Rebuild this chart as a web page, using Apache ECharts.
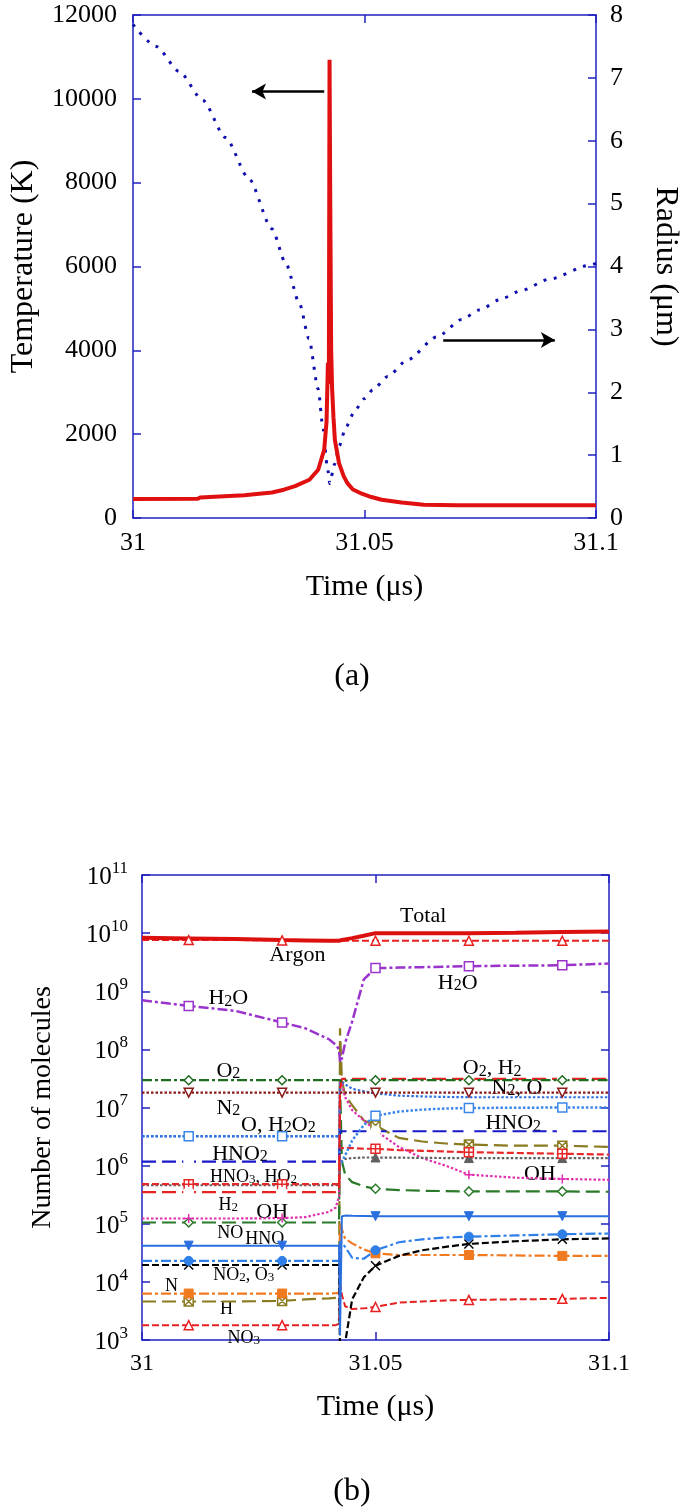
<!DOCTYPE html>
<html><head><meta charset="utf-8">
<script src="https://cdn.jsdelivr.net/npm/echarts/dist/echarts.min.js"></script>
<style>html,body{margin:0;padding:0;background:#fff}#c{width:689px;height:1512px}</style>
</head><body><div id="c"></div><script>
// ---------- DATA: chart (a) ----------
const tempTime = [31, 31.014, 31.0145, 31.024, 31.03, 31.0326, 31.035, 31.0381, 31.04, 31.0413, 31.0418, 31.0421, 31.0423, 31.04245, 31.0426, 31.0428, 31.043, 31.0433, 31.0436, 31.0445, 31.0455, 31.0463, 31.0475, 31.0491, 31.0515, 31.0537, 31.058, 31.0628, 31.07, 31.08, 31.1];
const temperature = [455, 460, 490, 545, 610, 675, 760, 913, 1150, 1630, 2300, 3700, 3200, 10930, 7600, 4000, 3100, 2400, 1865, 1310, 1000, 833, 680, 595, 500, 436, 370, 317, 305, 303, 302];
const radiusTime = [31, 31.005, 31.01, 31.015, 31.02, 31.025, 31.03, 31.033, 31.036, 31.038, 31.04, 31.041, 31.042, 31.0425, 31.0435, 31.0445, 31.046, 31.048, 31.05, 31.0518, 31.055, 31.0592, 31.0656, 31.0711, 31.0748, 31.08, 31.0839, 31.09, 31.0986, 31.1];
const radius = [7.85, 7.5, 7.1, 6.65, 6.05, 5.4, 4.6, 4.05, 3.4, 2.85, 2.05, 1.45, 0.8, 0.55, 0.85, 1.14, 1.45, 1.72, 1.9, 2.04, 2.25, 2.51, 2.88, 3.16, 3.31, 3.5, 3.62, 3.8, 4.02, 4.05];
const arrowTemp = [[31.0413, 31.0257], 10175];   // arrow pointing to the temperature axis
const arrowRadius = [[31.067, 31.0911], 2.83];   // arrow pointing to the radius axis

// ---------- DATA: chart (b) ----------
const molTime = [31, 31.01, 31.02, 31.03, 31.035, 31.04, 31.0415, 31.0422, 31.0424, 31.0428, 31.0435, 31.045, 31.0475, 31.05, 31.055, 31.06, 31.065, 31.07, 31.08, 31.09, 31.1];
const markerTimes = [31.01, 31.03, 31.05, 31.07, 31.09];
const total = [8.3e9, 8.1e9, 7.9e9, 7.6e9, 7.5e9, 7.4e9, 7.4e9, 7.4e9, 7.5e9, 7.6e9, 7.8e9, 8.2e9, 9.0e9, 1.0e10, 1.0e10, 1.0e10, 1.0e10, 1.0e10, 1.01e10, 1.05e10, 1.07e10];
const argon = [7.6e9, 7.6e9, 7.6e9, 7.5e9, 7.4e9, 7.4e9, 7.4e9, 7.4e9, 7.4e9, 7.4e9, 7.4e9, 7.4e9, 7.4e9, 7.4e9, 7.4e9, 7.4e9, 7.4e9, 7.4e9, 7.4e9, 7.4e9, 7.4e9];
const h2o = [7.0e8, 5.6e8, 4.6e8, 2.9e8, 2.3e8, 1.5e8, 1.2e8, 1.0e8, 6.0e7, 7.0e7, 1.3e8, 3.0e8, 1.6e9, 2.5e9, 2.55e9, 2.6e9, 2.65e9, 2.7e9, 2.75e9, 2.8e9, 3.0e9];
const o2 = [2.95e7, 2.95e7, 2.95e7, 2.95e7, 2.95e7, 2.95e7, 2.95e7, 2.95e7, 2.8e7, 2.8e7, 2.9e7, 2.95e7, 2.95e7, 2.95e7, 2.95e7, 2.95e7, 2.95e7, 2.95e7, 2.95e7, 2.95e7, 2.95e7];
const h2 = [3.5e5, 3.5e5, 3.5e5, 3.5e5, 3.5e5, 3.5e5, 3.5e5, 3.6e5, 2.0e7, 3.1e7, 3.1e7, 3.1e7, 3.1e7, 3.1e7, 3.1e7, 3.1e7, 3.1e7, 3.1e7, 3.1e7, 3.1e7, 3.1e7];
const n2 = [1.8e7, 1.8e7, 1.8e7, 1.8e7, 1.8e7, 1.8e7, 1.8e7, 1.8e7, 1.8e7, 1.8e7, 1.8e7, 1.8e7, 1.8e7, 1.8e7, 1.8e7, 1.8e7, 1.8e7, 1.8e7, 1.8e7, 1.8e7, 1.8e7];
const o = [3.2e6, 3.2e6, 3.2e6, 3.2e6, 3.2e6, 3.2e6, 3.2e6, 3.2e6, 3.0e7, 2.8e7, 2.5e7, 2.1e7, 1.9e7, 1.75e7, 1.6e7, 1.55e7, 1.52e7, 1.5e7, 1.5e7, 1.5e7, 1.5e7];
const h2o2 = [3.2e6, 3.2e6, 3.2e6, 3.2e6, 3.2e6, 3.2e6, 3.2e6, 3.2e6, 1.0e6, 1.0e6, 1.5e6, 2.7e6, 5.0e6, 7.2e6, 8.5e6, 9.2e6, 9.6e6, 9.8e6, 9.9e6, 1.0e7, 1.0e7];
const hno2 = [1.17e6, 1.17e6, 1.17e6, 1.17e6, 1.17e6, 1.17e6, 1.17e6, 1.17e6, 3.9e6, 3.9e6, 3.9e6, 3.9e6, 3.9e6, 3.9e6, 3.9e6, 3.9e6, 3.9e6, 3.9e6, 3.9e6, 3.9e6, 3.9e6];
const hno3 = [4.8e5, 4.8e5, 4.8e5, 4.8e5, 4.8e5, 4.8e5, 4.8e5, 4.8e5, 2.0e6, 2.0e6, 2.0e6, 2.0e6, 1.95e6, 1.95e6, 1.85e6, 1.8e6, 1.75e6, 1.7e6, 1.65e6, 1.6e6, 1.55e6];
const ho2 = [4.6e5, 4.6e5, 4.6e5, 4.6e5, 4.6e5, 4.6e5, 4.6e5, 4.6e5, 1.1e6, 1.2e6, 1.3e6, 1.35e6, 1.38e6, 1.38e6, 1.37e6, 1.36e6, 1.35e6, 1.35e6, 1.35e6, 1.35e6, 1.35e6];
const oh = [1.23e5, 1.23e5, 1.23e5, 1.25e5, 1.3e5, 1.6e5, 1.9e5, 3.0e5, 3.0e7, 2.5e7, 1.5e7, 9.0e6, 6.0e6, 4.0e6, 2.1e6, 1.35e6, 1.0e6, 7.0e5, 6.2e5, 5.9e5, 5.7e5];
const no = [1.05e5, 1.05e5, 1.05e5, 1.05e5, 1.05e5, 1.05e5, 1.05e5, 1.05e5, 3.0e7, 1.2e6, 7.0e5, 5.2e5, 4.4e5, 4.0e5, 3.8e5, 3.7e5, 3.65e5, 3.6e5, 3.6e5, 3.6e5, 3.55e5];
const hno = [4.2e4, 4.2e4, 4.2e4, 4.2e4, 4.2e4, 4.2e4, 4.2e4, 4.2e4, 1.2e3, 1.35e5, 1.38e5, 1.37e5, 1.36e5, 1.35e5, 1.35e5, 1.35e5, 1.35e5, 1.35e5, 1.35e5, 1.35e5, 1.35e5];
const no2 = [2.3e4, 2.3e4, 2.3e4, 2.3e4, 2.3e4, 2.3e4, 2.3e4, 2.3e4, 5.0e4, 5.0e4, 4.0e4, 2.6e4, 2.5e4, 3.5e4, 4.8e4, 5.4e4, 5.8e4, 6.0e4, 6.3e4, 6.6e4, 6.8e4];
const o3 = [1.95e4, 1.95e4, 1.95e4, 1.95e4, 1.95e4, 1.95e4, 1.95e4, 1.95e4, 5e2, 5e2, 9e2, 5.0e3, 1.2e4, 1.9e4, 2.8e4, 3.5e4, 4.0e4, 4.5e4, 5.0e4, 5.4e4, 5.6e4];
const nAtom = [6.3e3, 6.3e3, 6.3e3, 6.3e3, 6.3e3, 6.3e3, 6.4e3, 6.5e3, 1.0e5, 8.0e4, 5.5e4, 4.6e4, 3.6e4, 3.1e4, 2.9e4, 2.9e4, 2.9e4, 2.9e4, 2.85e4, 2.8e4, 2.8e4];
const hAtom = [4.6e3, 4.6e3, 4.6e3, 4.7e3, 5.0e3, 5.2e3, 5.3e3, 5.3e3, 2.3e8, 3.0e7, 1.6e7, 1.1e7, 6.0e6, 4.9e6, 3.0e6, 2.6e6, 2.4e6, 2.3e6, 2.2e6, 2.2e6, 2.1e6];
const no3 = [1.8e3, 1.8e3, 1.8e3, 1.8e3, 1.8e3, 1.8e3, 1.8e3, 1.9e3, 1.0e4, 6.0e3, 3.8e3, 3.4e3, 3.5e3, 3.7e3, 4.4e3, 4.6e3, 4.8e3, 4.9e3, 5.0e3, 5.1e3, 5.3e3];
// in-plot species labels: [text, time, molecules]
const speciesLabels = [
  ['Total', 31.0603, 2.0e10], ['Argon', 31.0334, 4.2e9], ['H2O', 31.0186, 7.7e8], ['H2O', 31.0677, 1.4e9],
  ['O2', 31.0186, 4.3e7], ['O2, H2', 31.0751, 4.8e7], ['N2, O', 31.0804, 2.2e7], ['N2', 31.0186, 1.0e7],
  ['O, H2O2', 31.0293, 5.1e6], ['HNO2', 31.0796, 5.4e6], ['HNO2', 31.0211, 1.6e6], ['HNO3, HO2', 31.024, 6.5e5],
  ['H2', 31.0186, 2.1e5], ['OH', 31.028, 1.6e5], ['OH', 31.0853, 7.4e5], ['NO', 31.019, 7.1e4],
  ['HNO', 31.0264, 5.5e4], ['NO2, O3', 31.0219, 1.35e4], ['N', 31.0064, 8.5e3], ['H', 31.0182, 3.4e3], ['NO3', 31.0219, 1.1e3]
];
const smallLabels = ['HNO3, HO2', 'H2', 'NO', 'HNO', 'NO2, O3', 'N', 'H', 'NO3'];

// ---------- STYLE ----------
const SERIF = '"Liberation Serif", "Times New Roman", serif';
const AX = '#2020c0';
const TXT = '#000';
const P = {
  invTri: 'path://M0,0L10,0L5,9Z',
  sqPlus: 'path://M0,0H10V10H0Z M5,0V10 M0,5H10',
  sqCross: 'path://M0,0H10V10H0Z M0,0L10,10 M10,0L0,10',
  plus: 'path://M5,0V10 M0,5H10',
  cross: 'path://M0,0L10,10 M10,0L0,10'
};
const DASH = [7, 3], LDASH = [14, 6], DOT = [2.5, 2], DDOT = [10, 3, 3, 3];

function fmtT(v) { return String(Math.round(v * 100) / 100); }

function axisX(grid, pos, name, gap) {
  return {
    gridIndex: grid, type: 'value', min: 31, max: 31.1, interval: 0.05, position: pos,
    axisLine: { onZero: false, lineStyle: { color: AX, width: 1.5 } },
    axisTick: { inside: true, length: 8, lineStyle: { color: AX, width: 1.5 } },
    axisLabel: { show: pos === 'bottom', color: TXT, fontFamily: SERIF, fontSize: grid === 0 ? 26 : 24, margin: 12, formatter: fmtT, showMinLabel: true, showMaxLabel: true },
    splitLine: { show: false },
    name: name || '', nameLocation: 'middle', nameGap: gap || 0,
    nameTextStyle: { color: TXT, fontFamily: SERIF, fontSize: 30 }
  };
}

function sub(text) {
  // digits of species names drawn smaller
  let out = '';
  for (const ch of text) {
    if (/[0-9]/.test(ch)) out += '{s|' + ch + '}';
    else out += '{n|' + ch + '}';
  }
  return out;
}

function species(name, vals, color, lineType, width, symbol, filled) {
  const data = molTime.map((t, i) => ({
    value: [t, vals[i]],
    symbol: (symbol && markerTimes.includes(t)) ? symbol : 'none'
  }));
  return {
    name, type: 'line', xAxisIndex: 2, yAxisIndex: 2, data,
    showSymbol: true, showAllSymbol: true, symbolSize: 9, clip: true,
    lineStyle: { color, width, type: lineType },
    itemStyle: filled ? { color, borderColor: color, borderWidth: 1 } : { color: '#fff', borderColor: color, borderWidth: 1.5 },
    emphasis: { disabled: true }, z: 3
  };
}

const chart = echarts.init(document.getElementById('c'), null, { renderer: 'canvas' });

const labelSeries = {
  type: 'scatter', xAxisIndex: 2, yAxisIndex: 2, symbolSize: 1, z: 2,
  itemStyle: { color: '#fff', opacity: 1 },
  data: speciesLabels.map(l => {
    const fs = smallLabels.includes(l[0]) ? 18 : 22;
    return {
      value: [l[1], l[2]], name: l[0],
      label: {
        rich: {
          n: { fontFamily: SERIF, fontSize: fs, color: TXT, lineHeight: fs + 2, verticalAlign: 'bottom' },
          s: { fontFamily: SERIF, fontSize: Math.round(fs * 0.72), color: TXT, lineHeight: fs + 2, verticalAlign: 'bottom' }
        }
      }
    };
  }),
  label: {
    show: true, position: [0, 0], align: 'center', verticalAlign: 'middle',
    color: TXT, textBorderWidth: 0, opacity: 1,
    formatter: p => sub(p.name)
  },
  emphasis: { disabled: true }, silent: true
};

const option = {
  animation: false,
  backgroundColor: '#fff',
  grid: [
    { left: 126, top: 15, width: 478, height: 503 },
    { left: 142, top: 875, width: 467, height: 465 }
  ],
  xAxis: [
    axisX(0, 'bottom', 'Time (μs)', 54),
    axisX(0, 'top'),
    axisX(1, 'bottom', 'Time (μs)', 52),
    axisX(1, 'top')
  ],
  yAxis: [
    {
      gridIndex: 0, type: 'value', min: 0, max: 12000, interval: 2000, position: 'left',
      axisLine: { lineStyle: { color: AX, width: 1.5 } },
      axisTick: { inside: true, length: 8, lineStyle: { color: AX, width: 1.5 } },
      axisLabel: { color: TXT, fontFamily: SERIF, fontSize: 26, margin: 16, formatter: v => String(v) },
      splitLine: { show: false },
      name: 'Temperature (K)', nameLocation: 'middle', nameGap: 93,
      nameTextStyle: { color: TXT, fontFamily: SERIF, fontSize: 32 }
    },
    {
      gridIndex: 0, type: 'value', min: 0, max: 8, interval: 1, position: 'right',
      axisLine: { lineStyle: { color: AX, width: 1.5 } },
      axisTick: { inside: true, length: 8, lineStyle: { color: AX, width: 1.5 } },
      axisLabel: { color: TXT, fontFamily: SERIF, fontSize: 26, margin: 14, formatter: v => String(v) },
      splitLine: { show: false },
      name: 'Radius (μm)', nameLocation: 'middle', nameGap: 53, nameRotate: -90,
      nameTextStyle: { color: TXT, fontFamily: SERIF, fontSize: 32 }
    },
    {
      gridIndex: 1, type: 'log', logBase: 10, min: 1e3, max: 1e11, splitNumber: 8, position: 'left',
      axisLine: { lineStyle: { color: AX, width: 1.5 } },
      axisTick: { inside: true, length: 8, lineStyle: { color: AX, width: 1.5 } },
      axisLabel: {
        color: TXT, margin: 14,
        formatter: v => '{b|10}{e|' + Math.round(Math.log10(v)) + '}',
        rich: {
          b: { fontFamily: SERIF, fontSize: 25, color: TXT, lineHeight: 30, verticalAlign: 'bottom' },
          e: { fontFamily: SERIF, fontSize: 17, color: TXT, lineHeight: 30, verticalAlign: 'top' }
        }
      },
      splitLine: { show: false }, minorTick: { show: false },
      name: 'Number of molecules', nameLocation: 'middle', nameGap: 85,
      nameTextStyle: { color: TXT, fontFamily: SERIF, fontSize: 28 }
    },
    {
      gridIndex: 1, type: 'log', logBase: 10, min: 1e3, max: 1e11, splitNumber: 8, position: 'right',
      axisLine: { lineStyle: { color: AX, width: 1.5 } },
      axisTick: { inside: true, length: 8, lineStyle: { color: AX, width: 1.5 } },
      axisLabel: { show: false }, splitLine: { show: false }
    }
  ],
  graphic: [
    { type: 'text', x: 352, y: 677, style: { text: '(a)', fontFamily: SERIF, fontSize: 32, fill: TXT, align: 'center', verticalAlign: 'middle' } },
    { type: 'text', x: 352, y: 1492, style: { text: '(b)', fontFamily: SERIF, fontSize: 32, fill: TXT, align: 'center', verticalAlign: 'middle' } }
  ],
  series: [
    {
      name: 'Radius', type: 'line', xAxisIndex: 0, yAxisIndex: 1, showSymbol: false,
      data: radiusTime.map((t, i) => [t, radius[i]]),
      smooth: 0.25, smoothMonotone: 'x',
      lineStyle: { color: '#1010b0', width: 3, type: [3, 7.5], cap: 'butt' },
      markLine: {
        silent: true, symbol: ['none', 'arrow'], symbolSize: [12, 14], label: { show: false },
        lineStyle: { color: '#000', width: 2.5, type: 'solid' },
        data: [[{ coord: [arrowRadius[0][0], arrowRadius[1]] }, { coord: [arrowRadius[0][1], arrowRadius[1]] }]]
      }
    },
    {
      name: 'Temperature', type: 'line', xAxisIndex: 0, yAxisIndex: 0, showSymbol: false,
      data: tempTime.map((t, i) => [t, temperature[i]]),
      lineStyle: { color: '#e01010', width: 4 },
      markLine: {
        silent: true, symbol: ['none', 'arrow'], symbolSize: [12, 14], label: { show: false },
        lineStyle: { color: '#000', width: 2.5, type: 'solid' },
        data: [[{ coord: [arrowTemp[0][0], arrowTemp[1]] }, { coord: [arrowTemp[0][1], arrowTemp[1]] }]]
      }
    },
    labelSeries,
    species('NO3', no3, '#e82020', DASH, 2, 'triangle', false),
    species('H', hAtom, '#8a7a20', LDASH, 2.2, P.sqCross, false),
    species('N', nAtom, '#f07a20', DDOT, 2.2, 'rect', true),
    species('O3', o3, '#000000', DASH, 2.2, P.cross, false),
    species('NO2', no2, '#2f7fe8', DDOT, 2.2, 'circle', true),
    species('HNO', hno, '#2a6fe0', 'solid', 2, P.invTri, true),
    species('NO', no, '#2a7a2a', LDASH, 2.2, 'diamond', false),
    species('OH', oh, '#e030b0', DOT, 2.2, P.plus, false),
    species('HO2', ho2, '#606060', DOT, 2.2, 'triangle', true),
    species('HNO3', hno3, '#e82828', DASH, 2.2, P.sqPlus, false),
    species('HNO2', hno2, '#1a1acc', LDASH, 2.2, 'emptyCircle', false),
    species('H2O2', h2o2, '#3a86e8', DOT, 2.5, 'rect', false),
    species('O', o, '#3070e0', DOT, 2.2, null, false),
    species('N2', n2, '#8b1a1a', DOT, 2.2, P.invTri, false),
    species('H2', h2, '#e82020', LDASH, 2.2, 'emptyCircle', false),
    species('O2', o2, '#1f6b1f', DDOT, 2.2, 'diamond', false),
    species('H2O', h2o, '#9933cc', DDOT, 2.5, 'rect', false),
    species('Argon', argon, '#e82020', DASH, 2, 'triangle', false),
    species('Total', total, '#dd1010', 'solid', 4, null, false)
  ]
};
chart.setOption(option);
</script></body></html>
